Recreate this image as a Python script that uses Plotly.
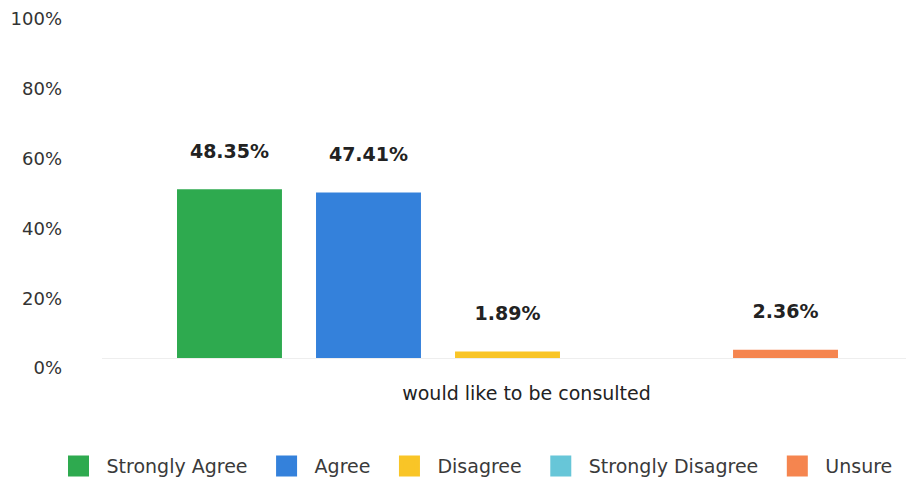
import plotly.graph_objects as go

categories = ["would like to be consulted"]
series_names = ["Strongly Agree", "Agree", "Disagree", "Strongly Disagree", "Unsure"]
series_values = [48.35, 47.41, 1.89, 0.0, 2.36]
series_colors = ["#2eaa4f", "#3481db", "#f9c527", "#67c6d8", "#f5854f"]
y_ticks = [0, 20, 40, 60, 80, 100]

FONT = "DejaVu Sans"

fig = go.Figure()
for i, (name, val, col) in enumerate(zip(series_names, series_values, series_colors)):
    label = f"<b>{val:.2f}%</b><br> " if val > 0 else ""
    fig.add_trace(go.Bar(
        name=name, x=categories, y=[val],
        marker=dict(color=col, line=dict(width=0)),
        text=[label], textposition="outside", cliponaxis=False,
        constraintext="none",
        textfont=dict(family=FONT, size=19, color="#222222"),
        showlegend=False, hoverinfo="skip",
    ))
    pad = "\u00a0" if i < len(series_names) - 1 else ""
    fig.add_trace(go.Scatter(
        name=name + pad, x=[None], y=[None], mode="markers",
        marker=dict(symbol="square", size=16, color=col, line=dict(color=col, width=5)),
        showlegend=True, hoverinfo="skip",
    ))

# page body adds an 8px offset; margins are set relative to the figure origin
fig.update_layout(
    width=914, height=482,
    margin=dict(l=94, r=9, t=1, b=132),
    paper_bgcolor="white", plot_bgcolor="white",
    barmode="group", bargap=0.143, bargroupgap=0.245,
    font=dict(family=FONT, color="#333333"),
    xaxis=dict(
        type="category", showgrid=False, showline=False, zeroline=False,
        ticks="", tickfont=dict(family=FONT, size=19, color="#222222"),
        ticklabelshift=19, ticklabelstandoff=22, automargin=False,
    ),
    yaxis=dict(
        range=[0, 100], tickvals=y_ticks, ticktext=[f"{v}%" for v in y_ticks],
        showgrid=False, zeroline=True, zerolinecolor="#eeeeee", zerolinewidth=1,
        showline=False, ticks="",
        tickfont=dict(family=FONT, size=18, color="#333333"),
        ticklabelstandoff=39, ticklabelshift=10, automargin=False,
    ),
    legend=dict(
        orientation="h", xref="paper", yref="paper",
        x=-0.0635, xanchor="left", y=-0.31, yanchor="middle",
        font=dict(family=FONT, size=19, color="#3a3a3a"),
        itemsizing="trace", itemwidth=46, tracegroupgap=0, itemclick=False,
    ),
)

fig.write_html("out.html")
